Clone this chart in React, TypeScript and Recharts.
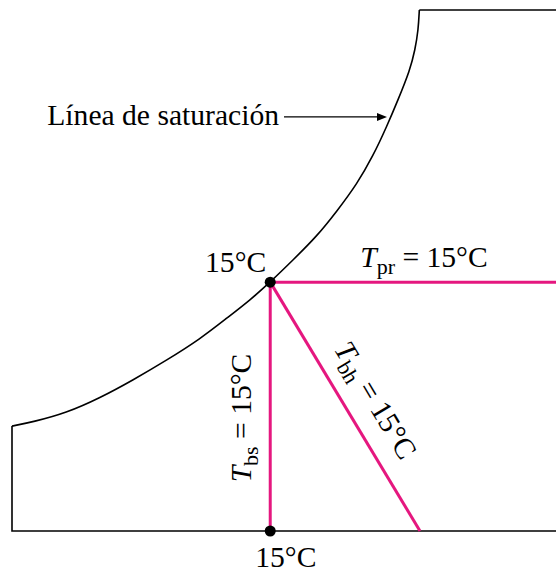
import React from 'react';
import {
  ComposedChart,
  Line,
  Scatter,
  XAxis,
  YAxis,
  ReferenceDot,
  Label,
} from 'recharts';

const FONT = '"Liberation Serif", "Times New Roman", serif';
const MAGENTA = '#E5177F';
const FS = 29.6;

// saturation curve: dry-bulb temperature (°C) vs humidity ratio (g/kg)
const satT = [0, 1.22, 3.14, 5.11, 7.03, 9.0, 10.92, 12.49, 13.83, 15, 16.32, 17.72, 18.88, 20.04, 20.97, 21.78, 22.42, 23.12, 23.41, 23.6, 23.66];
const satW = [4.51, 4.69, 5.07, 5.72, 6.49, 7.35, 8.25, 9.16, 9.93, 10.7, 11.65, 12.68, 13.76, 14.92, 16.12, 17.41, 18.53, 19.82, 20.68, 21.54, 22.4];

// chart limits
const tMin = 0;
const tMax = 31.6;
const wMin = 0;
const wMax = 22.4;

// state point: T = 15°C on the saturation line
const tState = 15;
const wState = 10.7;
const tWetEnd = 23.7;

// where the "Línea de saturación" arrow points
const tArrow = 21.9;
const wArrow = 17.76;

const satCurve = satT.map((t, i) => ({ t, w: satW[i] }));
const frameLow = [
  { t: tMax, w: wMin },
  { t: tMin, w: wMin },
  { t: tMin, w: satW[0] },
];
const frameTop = [
  { t: satT[satT.length - 1], w: wMax },
  { t: tMax, w: wMax },
];
const dewPoint = [
  { t: tState, w: wState },
  { t: tMax, w: wState },
];
const dryBulb = [
  { t: tState, w: wMin },
  { t: tState, w: wState },
];
const wetBulb = [
  { t: tState, w: wState },
  { t: tWetEnd, w: wMin },
];
const statePoints = [
  { t: tState, w: wState },
  { t: tState, w: wMin },
];

const txt = { fontFamily: FONT, fontSize: FS, fill: '#000' };

const Sub = ({ label, sub, rest }: { label: string; sub: string; rest: string }) => (
  <>
    <tspan fontStyle="italic">{label}</tspan>
    <tspan fontSize={22} dy={7}>{sub}</tspan>
    <tspan dy={-7}>{rest}</tspan>
  </>
);

const dotShape = (p: any) => <circle cx={p.cx} cy={p.cy} r={5.5} fill="#000" />;

const App: React.FC = () => {
  return (
    <div style={{ position: 'absolute', left: 0, top: 0, background: '#fff' }}>
      <ComposedChart width={556} height={575} margin={{ top: 10, right: 0, left: 12, bottom: 44 }}>
        <XAxis type="number" dataKey="t" domain={[tMin, tMax]} hide />
        <YAxis type="number" dataKey="w" domain={[wMin, wMax]} hide />

        <Line data={frameLow} dataKey="w" type="linear" stroke="#000" strokeWidth={1.6} dot={false} activeDot={false} isAnimationActive={false} />
        <Line data={frameTop} dataKey="w" type="linear" stroke="#000" strokeWidth={1.6} dot={false} activeDot={false} isAnimationActive={false} />
        <Line data={satCurve} dataKey="w" type="basis" stroke="#000" strokeWidth={1.6} dot={false} activeDot={false} isAnimationActive={false} />

        <Line data={dewPoint} dataKey="w" type="linear" stroke={MAGENTA} strokeWidth={3} dot={false} activeDot={false} isAnimationActive={false} />
        <Line data={dryBulb} dataKey="w" type="linear" stroke={MAGENTA} strokeWidth={3} dot={false} activeDot={false} isAnimationActive={false} />
        <Line data={wetBulb} dataKey="w" type="linear" stroke={MAGENTA} strokeWidth={3} dot={false} activeDot={false} isAnimationActive={false} />

        <Scatter data={statePoints} shape={dotShape} isAnimationActive={false} />

        <ReferenceDot x={tArrow} y={wArrow} r={0} fill="none" stroke="none">
          <Label
            content={(p: any) => {
              const { x, y } = p.viewBox;
              return (
                <g>
                  <text x={x - 110} y={y + 7} textAnchor="end" {...txt}>Línea de saturación</text>
                  <line x1={x - 105} y1={y - 1} x2={x - 10} y2={y - 1} stroke="#000" strokeWidth={1.3} />
                  <polygon points={`${x - 2},${y - 1} ${x - 12},${y - 5} ${x - 12},${y + 3}`} fill="#000" />
                </g>
              );
            }}
          />
        </ReferenceDot>

        <ReferenceDot x={tState} y={wState} r={0} fill="none" stroke="none">
          <Label
            content={(p: any) => {
              const { x, y } = p.viewBox;
              return (
                <g>
                  <text x={x - 4} y={y - 10} textAnchor="end" {...txt}>15°C</text>
                  <text x={x + 90} y={y - 15} {...txt}>
                    <Sub label="T" sub="pr" rest=" = 15°C" />
                  </text>
                  <text x={x + 97} y={y + 123} textAnchor="middle" transform={`rotate(59 ${x + 97} ${y + 123})`} {...txt}>
                    <Sub label="T" sub="bh" rest=" = 15°C" />
                  </text>
                </g>
              );
            }}
          />
        </ReferenceDot>

        <ReferenceDot x={tState} y={wMin} r={0} fill="none" stroke="none">
          <Label
            content={(p: any) => {
              const { x, y } = p.viewBox;
              return (
                <g>
                  <text x={x - 15} y={y + 36} {...txt}>15°C</text>
                  <text x={x - 19} y={y - 113} textAnchor="middle" transform={`rotate(-90 ${x - 19} ${y - 113})`} {...txt}>
                    <Sub label="T" sub="bs" rest=" = 15°C" />
                  </text>
                </g>
              );
            }}
          />
        </ReferenceDot>
      </ComposedChart>
    </div>
  );
};

export default App;
